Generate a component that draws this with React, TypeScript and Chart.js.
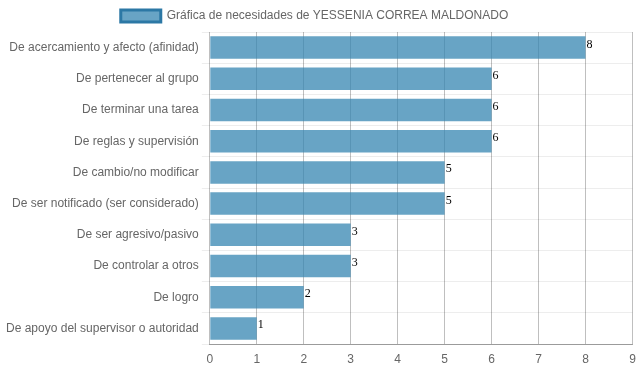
import React, { useEffect, useRef } from "react";
import { Chart, registerables } from "chart.js";

Chart.register(...registerables);

const categories = [
  "De acercamiento y afecto (afinidad)",
  "De pertenecer al grupo",
  "De terminar una tarea",
  "De reglas y supervisión",
  "De cambio/no modificar",
  "De ser notificado (ser considerado)",
  "De ser agresivo/pasivo",
  "De controlar a otros",
  "De logro",
  "De apoyo del supervisor o autoridad",
];
const values = [8, 6, 6, 6, 5, 5, 3, 3, 2, 1];
const seriesLabel = "Gráfica de necesidades de YESSENIA CORREA MALDONADO";

const valueLabels = {
  id: "valueLabels",
  afterLayout(chart: any) {
    if (chart.legend) {
      chart.legend.right -= 13;
    }
  },
  afterDatasetsDraw(chart: any) {
    const ctx = chart.ctx;
    const meta = chart.getDatasetMeta(0);
    ctx.save();
    ctx.font = "12px 'Liberation Serif', 'DejaVu Serif', serif";
    ctx.fillStyle = "#000";
    ctx.textAlign = "left";
    ctx.textBaseline = "top";
    meta.data.forEach((bar: any, i: number) => {
      const top = bar.y - bar.height / 2;
      ctx.fillText(String(values[i]), bar.x + 1, top + 2);
    });
    ctx.restore();
  },
};

export default function App() {
  const ref = useRef<HTMLCanvasElement>(null);
  useEffect(() => {
    const chart = new Chart(ref.current!, {
      type: "bar",
      data: {
        labels: categories,
        datasets: [
          {
            label: seriesLabel,
            data: values,
            backgroundColor: "rgba(54,134,178,0.75)",
            borderColor: "rgba(44,120,165,1)",
            borderWidth: 0,
          },
        ],
      },
      options: {
        indexAxis: "y",
        animation: false,
        responsive: true,
        maintainAspectRatio: false,
        layout: { padding: { left: 3, top: 0 } },
        font: { family: "'Liberation Sans', Arial, sans-serif", size: 12 },
        plugins: {
          tooltip: { enabled: false },
          legend: {
            labels: {
              color: "#666",
              font: { family: "'Liberation Sans', Arial, sans-serif", size: 12 },
              generateLabels: () => [
                {
                  text: seriesLabel,
                  fillStyle: "rgba(54,134,178,0.75)",
                  strokeStyle: "rgba(44,120,165,1)",
                  lineWidth: 3,
                  hidden: false,
                  datasetIndex: 0,
                  fontColor: "#666",
                } as any,
              ],
            },
          },
        },
        scales: {
          x: {
            min: 0,
            max: 9,
            afterFit(scale: any) {
              scale.paddingRight = 6.5;
              scale.height = 28;
            },
            ticks: {
              stepSize: 1,
              padding: 8,
              color: "#666",
              font: { family: "'Liberation Sans', Arial, sans-serif", size: 12 },
            },
            grid: { color: "rgba(0,0,0,0.25)", drawTicks: false },
            border: { color: "rgba(0,0,0,0.35)" },
          },
          y: {
            ticks: {
              color: "#666",
              font: { family: "'Liberation Sans', Arial, sans-serif", size: 12 },
            },
            grid: { color: "rgba(0,0,0,0.07)", offset: true },
            border: { display: false },
          },
        },
      },
      plugins: [valueLabels],
    });
    return () => chart.destroy();
  }, []);
  return (
    <div style={{ position: "absolute", left: 0, top: 0, width: 639, height: 372 }}>
      <canvas ref={ref} />
    </div>
  );
}
